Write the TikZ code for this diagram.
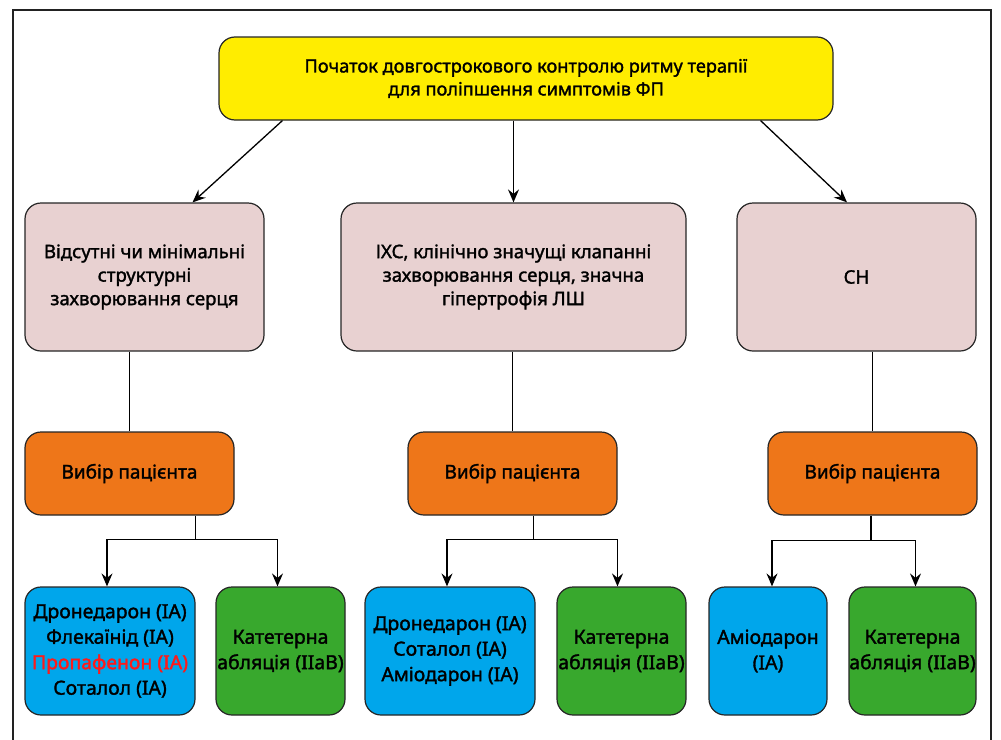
\documentclass[tikz,border=0pt]{standalone}
\usepackage{fontspec}
\setmainfont{Noto Sans}[FakeBold=1.6]
\usetikzlibrary{calc,arrows.meta}
\definecolor{cyellow}{HTML}{FFED00}
\definecolor{cpink}{HTML}{E8D1D1}
\definecolor{corange}{HTML}{EE7619}
\definecolor{cblue}{HTML}{00A6EB}
\definecolor{cgreen}{HTML}{38A82D}
\definecolor{cred}{HTML}{FF1A1A}
\definecolor{cframe}{HTML}{222222}
\tikzset{
  box/.style={draw=black!85, line width=1.2pt, rounded corners=16pt, align=center,
    inner sep=0pt, font=\fontsize{18.6}{23.5}\selectfont},
  topbox/.style={box, fill=cyellow, minimum width=614pt, minimum height=83pt, font=\fontsize{18.2}{23}\selectfont},
  pinkbox/.style={box, fill=cpink, minimum height=148pt},
  orangebox/.style={box, fill=corange, minimum width=209pt, minimum height=83pt, font=\fontsize{19}{23}\selectfont},
  leafbox/.style={box, minimum height=128pt, font=\fontsize{19.4}{25.5}\selectfont},
  bluebox/.style={leafbox, fill=cblue},
  greenbox/.style={leafbox, fill=cgreen},
  conn/.style={line width=1.3pt, draw=black},
  arr/.style={conn, -{Stealth[length=13pt,width=11pt,inset=4.5pt]}},
}
\begin{document}
\begin{tikzpicture}[x=1pt,y=-1pt]
\useasboundingbox (0,0) rectangle (1001,739);
\fill[white] (0,0) rectangle (1001,739);
\draw[cframe, line width=1.8pt] (13,745) -- (13,10) -- (991,10) -- (991,745);

\node[topbox] (top) at (526,78.5) {Початок довгострокового контролю ритму терапії\\для поліпшення симптомів ФП};

\node[pinkbox, minimum width=239pt] (p1) at (144.5,277) {Відсутні чи мінімальні\\структурні\\захворювання серця};
\node[pinkbox, minimum width=345pt] (p2) at (513.5,277) {ІХС, клінічно значущі клапанні\\захворювання серця, значна\\гіпертрофія ЛШ};
\node[pinkbox, minimum width=239pt] (p3) at (856.5,277) {СН};

\node[orangebox] (o1) at (129.5,473.5) {Вибір пацієнта};
\node[orangebox] (o2) at (512.5,473.5) {Вибір пацієнта};
\node[orangebox] (o3) at (872.5,473.5) {Вибір пацієнта};

\node[bluebox, minimum width=170pt] (b1) at (110,651) {Дронедарон (IA)\\Флекаїнід (IA)\\\textcolor{cred}{Пропафенон (IA)}\\Соталол (IA)};
\node[greenbox, minimum width=129pt] (g1) at (280.5,651) {Катетерна\\абляція (IIaB)};
\node[bluebox, minimum width=170pt] (b2) at (450,651) {Дронедарон (IA)\\Соталол (IA)\\Аміодарон (IA)};
\node[greenbox, minimum width=129pt] (g2) at (621.5,651) {Катетерна\\абляція (IIaB)};
\node[bluebox, minimum width=118pt] (b3) at (768,651) {Аміодарон\\(IA)};
\node[greenbox, minimum width=127pt] (g3) at (912.5,651) {Катетерна\\абляція (IIaB)};

% top to pink
\draw[arr] ($(top.south west)+(64,0)$) -- ($(p1.north)+(48,0)$);
\draw[arr] (top.south -| p2.north) -- (p2.north);
\draw[arr] ($(top.south east)+(-73,0)$) -- ($(p3.north)+(-9.5,0)$);

% pink to orange
\draw[conn] (p1.south -| o1.north) -- (o1.north);
\draw[conn] (p2.south -| o2.north) -- (o2.north);
\draw[conn] (p3.south -| o3.north) -- (o3.north);

% orange to leaves
\coordinate (s1) at ($(b1.north)!0.5!(g1.north)+(0,-47)$);
\coordinate (s2) at ($(b2.north)!0.5!(g2.north)+(-2,-47)$);
\coordinate (s3) at ($(o3.south)+(-1.5,25)$);
\draw[conn] (o1.south -| s1) -- (s1);
\draw[arr] (s1) -| ($(b1.north)+(-3,0)$);
\draw[arr] (s1) -| ($(g1.north)+(-3,0)$);
\draw[conn] (o2.south -| s2) -- (s2);
\draw[arr] (s2) -| ($(b2.north)+(-3,0)$);
\draw[arr] (s2) -| ($(g2.north)+(-4,0)$);
\draw[conn] (o3.south -| s3) -- (s3);
\draw[arr] (s3) -| ($(b3.north)+(4,0)$);
\draw[arr] (s3) -| ($(g3.north)+(3,0)$);
\end{tikzpicture}
\end{document}
